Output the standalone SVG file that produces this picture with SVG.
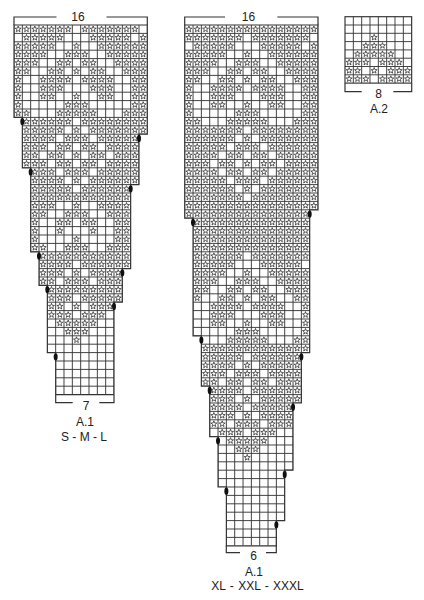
<svg xmlns="http://www.w3.org/2000/svg" width="424" height="600" viewBox="0 0 424 600">
<style>
.gr{fill:none;stroke:#333;stroke-width:.11}
.ol{fill:none;stroke:#333;stroke-width:.14}
.st{fill:none;stroke:#333;stroke-width:.095;stroke-linejoin:round}
.dt{fill:#111}
.br{fill:none;stroke:#333;stroke-width:1.2}
.t{font-family:"Liberation Sans",Arial,sans-serif;font-size:12px;fill:#222;text-anchor:middle}
</style>
<defs>
<path id="s" class="st" d="M0-.38L.091-.125L.361-.117L.147.048L.223.307L0 .155L-.223.307L-.147.048L-.361-.117L-.091-.125Z"/>
<clipPath id="cl"><path d="M0 0H16V13H15V19H14V29H13V33H12V44H5V39H4V31H3V27H2V17H1V11H0Z"/></clipPath>
<clipPath id="cr"><path d="M0 0H16V22H15V39H14V45H13V53H12V59H11V62H5V55H4V49H3V43H2V37H1V23H0Z"/></clipPath>
</defs>
<rect width="424" height="600" fill="#fff"/>

<g id="chart-a1-sml" transform="translate(14,25) scale(8.3333,8.4)">
<g clip-path="url(#cl)">
<path class="gr" d="M0 0V44M1 0V44M2 0V44M3 0V44M4 0V44M5 0V44M6 0V44M7 0V44M8 0V44M9 0V44M10 0V44M11 0V44M12 0V44M13 0V44M14 0V44M15 0V44M16 0V44M0 1H16M0 2H16M0 3H16M0 4H16M0 5H16M0 6H16M0 7H16M0 8H16M0 9H16M0 10H16M0 11H16M0 12H16M0 13H16M0 14H16M0 15H16M0 16H16M0 17H16M0 18H16M0 19H16M0 20H16M0 21H16M0 22H16M0 23H16M0 24H16M0 25H16M0 26H16M0 27H16M0 28H16M0 29H16M0 30H16M0 31H16M0 32H16M0 33H16M0 34H16M0 35H16M0 36H16M0 37H16M0 38H16M0 39H16M0 40H16M0 41H16M0 42H16M0 43H16"/>
<g id="L1" transform="translate(-.5,.5)"><use href="#s" x="1"/><use href="#s" x="2"/><use href="#s" x="3"/><use href="#s" x="4"/><use href="#s" x="5"/><use href="#s" x="6"/><use href="#s" x="7"/><use href="#s" x="9"/><use href="#s" x="10"/><use href="#s" x="11"/><use href="#s" x="12"/><use href="#s" x="13"/><use href="#s" x="14"/><use href="#s" x="15"/></g>
<g id="L2" transform="translate(-.5,1.5)"><use href="#s" x="2"/><use href="#s" x="3"/><use href="#s" x="4"/><use href="#s" x="5"/><use href="#s" x="6"/><use href="#s" x="10"/><use href="#s" x="11"/><use href="#s" x="12"/><use href="#s" x="13"/><use href="#s" x="14"/><use href="#s" x="16"/></g>
<g id="L3" transform="translate(-.5,2.5)"><use href="#s" x="1"/><use href="#s" x="2"/><use href="#s" x="3"/><use href="#s" x="4"/><use href="#s" x="5"/><use href="#s" x="8"/><use href="#s" x="11"/><use href="#s" x="12"/><use href="#s" x="13"/><use href="#s" x="14"/><use href="#s" x="15"/><use href="#s" x="16"/></g>
<g id="L4" transform="translate(-.5,3.5)"><use href="#s" x="1"/><use href="#s" x="2"/><use href="#s" x="3"/><use href="#s" x="4"/><use href="#s" x="7"/><use href="#s" x="8"/><use href="#s" x="9"/><use href="#s" x="12"/><use href="#s" x="13"/><use href="#s" x="14"/><use href="#s" x="15"/><use href="#s" x="16"/></g>
<g id="L5" transform="translate(-.5,4.5)"><use href="#s" x="1"/><use href="#s" x="2"/><use href="#s" x="3"/><use href="#s" x="6"/><use href="#s" x="7"/><use href="#s" x="9"/><use href="#s" x="10"/><use href="#s" x="13"/><use href="#s" x="14"/><use href="#s" x="15"/><use href="#s" x="16"/></g>
<g id="L6" transform="translate(-.5,5.5)"><use href="#s" x="1"/><use href="#s" x="2"/><use href="#s" x="5"/><use href="#s" x="6"/><use href="#s" x="8"/><use href="#s" x="10"/><use href="#s" x="11"/><use href="#s" x="14"/><use href="#s" x="15"/><use href="#s" x="16"/></g>
<g id="L7" transform="translate(-.5,6.5)"><use href="#s" x="1"/><use href="#s" x="4"/><use href="#s" x="5"/><use href="#s" x="6"/><use href="#s" x="7"/><use href="#s" x="9"/><use href="#s" x="10"/><use href="#s" x="11"/><use href="#s" x="12"/><use href="#s" x="15"/><use href="#s" x="16"/></g>
<g id="L8" transform="translate(-.5,7.5)"><use href="#s" x="1"/><use href="#s" x="4"/><use href="#s" x="5"/><use href="#s" x="6"/><use href="#s" x="10"/><use href="#s" x="11"/><use href="#s" x="12"/><use href="#s" x="15"/><use href="#s" x="16"/></g>
<g id="L9" transform="translate(-.5,8.5)"><use href="#s" x="1"/><use href="#s" x="4"/><use href="#s" x="5"/><use href="#s" x="8"/><use href="#s" x="11"/><use href="#s" x="12"/><use href="#s" x="15"/><use href="#s" x="16"/></g>
<g id="L10" transform="translate(-.5,9.5)"><use href="#s" x="1"/><use href="#s" x="7"/><use href="#s" x="8"/><use href="#s" x="9"/><use href="#s" x="15"/><use href="#s" x="16"/></g>
<g id="L11" transform="translate(-.5,10.5)"><use href="#s" x="1"/><use href="#s" x="2"/><use href="#s" x="6"/><use href="#s" x="7"/><use href="#s" x="8"/><use href="#s" x="9"/><use href="#s" x="10"/><use href="#s" x="14"/><use href="#s" x="15"/><use href="#s" x="16"/></g>
<g id="L12" transform="translate(-.5,11.5)"><use href="#s" x="1"/><use href="#s" x="2"/><use href="#s" x="3"/><use href="#s" x="4"/><use href="#s" x="5"/><use href="#s" x="6"/><use href="#s" x="7"/><use href="#s" x="9"/><use href="#s" x="10"/><use href="#s" x="11"/><use href="#s" x="12"/><use href="#s" x="13"/><use href="#s" x="14"/><use href="#s" x="15"/><use href="#s" x="16"/></g>
<g id="L13" transform="translate(-.5,12.5)"><use href="#s" x="1"/><use href="#s" x="2"/><use href="#s" x="3"/><use href="#s" x="4"/><use href="#s" x="5"/><use href="#s" x="6"/><use href="#s" x="8"/><use href="#s" x="10"/><use href="#s" x="11"/><use href="#s" x="12"/><use href="#s" x="13"/><use href="#s" x="14"/><use href="#s" x="15"/><use href="#s" x="16"/></g>
<g id="L14" transform="translate(-.5,13.5)"><use href="#s" x="1"/><use href="#s" x="2"/><use href="#s" x="3"/><use href="#s" x="4"/><use href="#s" x="5"/><use href="#s" x="7"/><use href="#s" x="8"/><use href="#s" x="9"/><use href="#s" x="11"/><use href="#s" x="12"/><use href="#s" x="13"/><use href="#s" x="14"/><use href="#s" x="15"/><use href="#s" x="16"/></g>
<g id="L15" transform="translate(-.5,14.5)"><use href="#s" x="1"/><use href="#s" x="2"/><use href="#s" x="3"/><use href="#s" x="4"/><use href="#s" x="6"/><use href="#s" x="7"/><use href="#s" x="9"/><use href="#s" x="10"/><use href="#s" x="12"/><use href="#s" x="13"/><use href="#s" x="14"/><use href="#s" x="15"/><use href="#s" x="16"/></g>
<g id="L16" transform="translate(-.5,15.5)"><use href="#s" x="1"/><use href="#s" x="2"/><use href="#s" x="3"/><use href="#s" x="5"/><use href="#s" x="6"/><use href="#s" x="8"/><use href="#s" x="10"/><use href="#s" x="11"/><use href="#s" x="13"/><use href="#s" x="14"/><use href="#s" x="15"/><use href="#s" x="16"/></g>
<use href="#L15" y="2"/>
<use href="#L14" y="4"/>
<use href="#L13" y="6"/>
<use href="#L12" y="8"/>
<g id="L21" transform="translate(-.5,20.5)"><use href="#s" x="1"/><use href="#s" x="2"/><use href="#s" x="3"/><use href="#s" x="4"/><use href="#s" x="5"/><use href="#s" x="6"/><use href="#s" x="7"/><use href="#s" x="8"/><use href="#s" x="9"/><use href="#s" x="10"/><use href="#s" x="11"/><use href="#s" x="12"/><use href="#s" x="13"/><use href="#s" x="14"/><use href="#s" x="15"/><use href="#s" x="16"/></g>
<g transform="translate(-.5,21.5)"><use href="#s" x="3"/><use href="#s" x="4"/><use href="#s" x="5"/><use href="#s" x="8"/><use href="#s" x="11"/><use href="#s" x="12"/><use href="#s" x="13"/><use href="#s" x="14"/></g>
<g transform="translate(-.5,22.5)"><use href="#s" x="3"/><use href="#s" x="4"/><use href="#s" x="7"/><use href="#s" x="8"/><use href="#s" x="9"/><use href="#s" x="12"/><use href="#s" x="13"/><use href="#s" x="14"/></g>
<g transform="translate(-.5,23.5)"><use href="#s" x="3"/><use href="#s" x="6"/><use href="#s" x="7"/><use href="#s" x="9"/><use href="#s" x="10"/><use href="#s" x="13"/><use href="#s" x="14"/></g>
<g transform="translate(-.5,24.5)"><use href="#s" x="3"/><use href="#s" x="6"/><use href="#s" x="10"/><use href="#s" x="13"/><use href="#s" x="14"/></g>
<g transform="translate(-.5,25.5)"><use href="#s" x="3"/><use href="#s" x="8"/><use href="#s" x="13"/><use href="#s" x="14"/></g>
<g transform="translate(-.5,26.5)"><use href="#s" x="3"/><use href="#s" x="4"/><use href="#s" x="7"/><use href="#s" x="8"/><use href="#s" x="9"/><use href="#s" x="12"/><use href="#s" x="13"/><use href="#s" x="14"/></g>
<use href="#L21" y="7"/>
<use href="#L12" y="17"/>
<use href="#L13" y="17"/>
<use href="#L14" y="17"/>
<use href="#L21" y="11"/>
<use href="#L12" y="21"/>
<g transform="translate(-.5,33.5)"><use href="#s" x="5"/><use href="#s" x="6"/><use href="#s" x="8"/><use href="#s" x="10"/><use href="#s" x="11"/><use href="#s" x="12"/></g>
<g transform="translate(-.5,34.5)"><use href="#s" x="5"/><use href="#s" x="6"/><use href="#s" x="7"/><use href="#s" x="9"/><use href="#s" x="10"/><use href="#s" x="11"/></g>
<g transform="translate(-.5,35.5)"><use href="#s" x="6"/><use href="#s" x="7"/><use href="#s" x="8"/><use href="#s" x="9"/><use href="#s" x="10"/></g>
<g transform="translate(-.5,36.5)"><use href="#s" x="7"/><use href="#s" x="8"/><use href="#s" x="9"/></g>
<g transform="translate(-.5,37.5)"><use href="#s" x="8"/></g>
</g>
<path class="ol" d="M0 0H16V13H15V19H14V29H13V33H12V44H5V39H4V31H3V27H2V17H1V11H0Z"/>
<g class="dt"><ellipse cx="1" cy="11.5" rx=".24" ry=".43"/><ellipse cx="15" cy="13.5" rx=".24" ry=".43"/><ellipse cx="2" cy="17.5" rx=".24" ry=".43"/><ellipse cx="14" cy="19.5" rx=".24" ry=".43"/><ellipse cx="3" cy="27.5" rx=".24" ry=".43"/><ellipse cx="13" cy="29.5" rx=".24" ry=".43"/><ellipse cx="4" cy="31.5" rx=".24" ry=".43"/><ellipse cx="12" cy="33.5" rx=".24" ry=".43"/><ellipse cx="5" cy="39.5" rx=".24" ry=".43"/></g>
</g>

<g id="chart-a1-xl" transform="translate(184.7,25) scale(8.3333,8.4)">
<g clip-path="url(#cr)">
<path class="gr" d="M0 0V62M1 0V62M2 0V62M3 0V62M4 0V62M5 0V62M6 0V62M7 0V62M8 0V62M9 0V62M10 0V62M11 0V62M12 0V62M13 0V62M14 0V62M15 0V62M16 0V62M0 1H16M0 2H16M0 3H16M0 4H16M0 5H16M0 6H16M0 7H16M0 8H16M0 9H16M0 10H16M0 11H16M0 12H16M0 13H16M0 14H16M0 15H16M0 16H16M0 17H16M0 18H16M0 19H16M0 20H16M0 21H16M0 22H16M0 23H16M0 24H16M0 25H16M0 26H16M0 27H16M0 28H16M0 29H16M0 30H16M0 31H16M0 32H16M0 33H16M0 34H16M0 35H16M0 36H16M0 37H16M0 38H16M0 39H16M0 40H16M0 41H16M0 42H16M0 43H16M0 44H16M0 45H16M0 46H16M0 47H16M0 48H16M0 49H16M0 50H16M0 51H16M0 52H16M0 53H16M0 54H16M0 55H16M0 56H16M0 57H16M0 58H16M0 59H16M0 60H16M0 61H16"/>
<use href="#L21" y="-20"/>
<use href="#L1" y="1"/><use href="#L2" y="1"/><use href="#L3" y="1"/><use href="#L4" y="1"/><use href="#L5" y="1"/><use href="#L6" y="1"/><use href="#L7" y="1"/><use href="#L8" y="1"/><use href="#L9" y="1"/><use href="#L10" y="1"/><use href="#L11" y="1"/>
<use href="#L12" y="1"/><use href="#L13" y="1"/><use href="#L14" y="1"/><use href="#L15" y="1"/><use href="#L16" y="1"/><use href="#L15" y="3"/><use href="#L14" y="5"/><use href="#L13" y="7"/><use href="#L12" y="9"/><use href="#L21" y="1"/>
<use href="#L21" y="2"/><use href="#L21" y="3"/><use href="#L21" y="4"/><use href="#L21" y="5"/><use href="#L21" y="6"/>
<use href="#L1" y="27"/><use href="#L2" y="27"/><use href="#L3" y="27"/><use href="#L4" y="27"/><use href="#L5" y="27"/><use href="#L6" y="27"/><use href="#L7" y="27"/><use href="#L8" y="27"/><use href="#L9" y="27"/><use href="#L10" y="27"/><use href="#L11" y="27"/>
<use href="#L21" y="18"/>
<use href="#L12" y="28"/><use href="#L13" y="28"/><use href="#L14" y="28"/><use href="#L15" y="28"/>
<use href="#L12" y="32"/><use href="#L13" y="32"/><use href="#L12" y="34"/><use href="#L13" y="34"/><use href="#L14" y="34"/>
<g transform="translate(-.5,48.5)"><use href="#s" x="5"/><use href="#s" x="6"/><use href="#s" x="7"/><use href="#s" x="9"/><use href="#s" x="10"/><use href="#s" x="11"/></g>
<g transform="translate(-.5,49.5)"><use href="#s" x="6"/><use href="#s" x="7"/><use href="#s" x="8"/><use href="#s" x="9"/><use href="#s" x="10"/></g>
<g transform="translate(-.5,50.5)"><use href="#s" x="7"/><use href="#s" x="8"/><use href="#s" x="9"/></g>
<g transform="translate(-.5,51.5)"><use href="#s" x="8"/></g>
</g>
<path class="ol" d="M0 0H16V22H15V39H14V45H13V53H12V59H11V62H5V55H4V49H3V43H2V37H1V23H0Z"/>
<g class="dt"><ellipse cx="15" cy="22.5" rx=".24" ry=".43"/><ellipse cx="1" cy="23.5" rx=".24" ry=".43"/><ellipse cx="2" cy="37.5" rx=".24" ry=".43"/><ellipse cx="14" cy="39.5" rx=".24" ry=".43"/><ellipse cx="3" cy="43.5" rx=".24" ry=".43"/><ellipse cx="13" cy="45.5" rx=".24" ry=".43"/><ellipse cx="4" cy="49.5" rx=".24" ry=".43"/><ellipse cx="12" cy="53.5" rx=".24" ry=".43"/><ellipse cx="5" cy="55.5" rx=".24" ry=".43"/><ellipse cx="11" cy="59.5" rx=".24" ry=".43"/></g>
</g>

<g id="chart-a2" transform="translate(345,16.7) scale(8.3333,8.3)">
<path class="gr" d="M1 0V8M2 0V8M3 0V8M4 0V8M5 0V8M6 0V8M7 0V8M0 1H8M0 2H8M0 3H8M0 4H8M0 5H8M0 6H8M0 7H8"/>
<rect class="ol" width="8" height="8"/>
<g transform="translate(-.5,2.5)"><use href="#s" x="4"/></g>
<g transform="translate(-.5,3.5)"><use href="#s" x="3"/><use href="#s" x="4"/><use href="#s" x="5"/></g>
<g transform="translate(-.5,4.5)"><use href="#s" x="2"/><use href="#s" x="3"/><use href="#s" x="4"/><use href="#s" x="5"/><use href="#s" x="6"/></g>
<g transform="translate(-.5,5.5)"><use href="#s" x="1"/><use href="#s" x="2"/><use href="#s" x="3"/><use href="#s" x="5"/><use href="#s" x="6"/><use href="#s" x="7"/></g>
<g transform="translate(-.5,6.5)"><use href="#s" x="1"/><use href="#s" x="2"/><use href="#s" x="4"/><use href="#s" x="6"/><use href="#s" x="7"/><use href="#s" x="8"/></g>
<g transform="translate(-.5,7.5)"><use href="#s" x="1"/><use href="#s" x="2"/><use href="#s" x="3"/><use href="#s" x="5"/><use href="#s" x="6"/><use href="#s" x="7"/><use href="#s" x="8"/></g>
</g>

<g id="labels">
<path class="br" d="M14 25V17H56.5M106.5 17H147.3V25"/>
<text class="t" x="78" y="21">16</text>
<path class="br" d="M184.7 25V17H225M277.3 17H318V25"/>
<text class="t" x="248.5" y="21">16</text>
<path class="br" d="M55.7 395V402.7H72.7M99.3 402.7H114V395"/>
<text class="t" x="86" y="410">7</text>
<text class="t" x="85" y="425.5">A.1</text>
<text class="t" x="84" y="441">S - M - L</text>
<path class="br" d="M226.3 545.8V552.7H240M266 552.7H276.3V545.8"/>
<text class="t" x="253.5" y="560">6</text>
<text class="t" x="254" y="575.5">A.1</text>
<text class="t" x="257.5" y="590" style="word-spacing:1px">XL - XXL - XXXL</text>
<path class="br" d="M345 83.3V91.7H361.7M393.3 91.7H411.7V83.3"/>
<text class="t" x="378.5" y="98">8</text>
<text class="t" x="379" y="113">A.2</text>
</g>
</svg>
